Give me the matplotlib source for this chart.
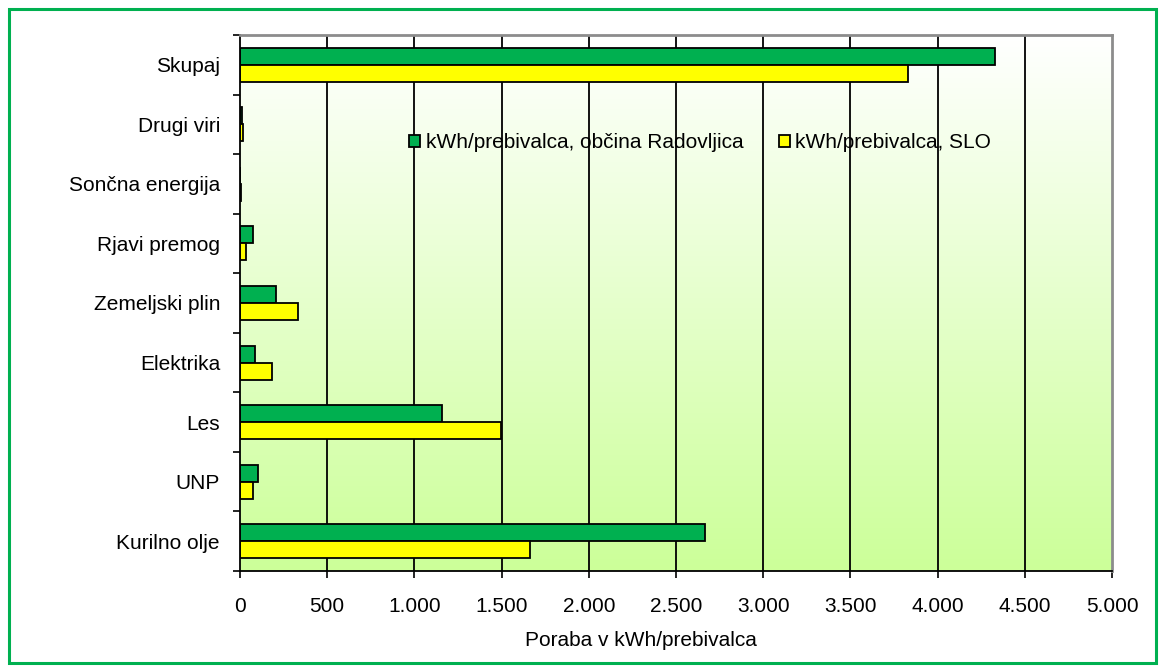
import matplotlib
matplotlib.use("Agg")
import matplotlib.pyplot as plt
import numpy as np
from matplotlib.patches import Rectangle
from matplotlib.ticker import FixedLocator, FuncFormatter

# Energy use per inhabitant by source
categories = ["Kurilno olje", "UNP", "Les", "Elektrika", "Zemeljski plin",
              "Rjavi premog", "Sončna energija", "Drugi viri", "Skupaj"]
radovljica = [2668, 105, 1158, 84, 207, 77, 0, 12, 4327]
slovenija = [1663, 75, 1497, 186, 333, 37, 8, 17, 3830]
series_labels = ["kWh/prebivalca, občina Radovljica", "kWh/prebivalca, SLO"]
x_label = "Poraba v kWh/prebivalca"
x_ticks = list(range(0, 5001, 500))

plt.rcParams["font.family"] = ["Liberation Sans", "DejaVu Sans"]

W, H, DPI = 1165, 671, 100
FS = 15
GREEN = "#00b050"
YELLOW = "#ffff00"

fig = plt.figure(figsize=(W / DPI, H / DPI), dpi=DPI)
fig.patch.set_facecolor("white")
ax = fig.add_axes([240 / W, 1 - 571 / H, 872 / W, 536 / H])
ax.patch.set_facecolor("white")

# vertical white-to-light-green background
frac = np.linspace(0, 1, 256)[:, None, None]
c_top = np.array([1.0, 1.0, 1.0])
c_bot = np.array([204, 255, 153]) / 255
bg = c_top + (c_bot - c_top) * frac
ax.imshow(bg, extent=[0, 1, 0, 1], transform=ax.transAxes, aspect="auto",
          origin="upper", zorder=0, interpolation="bilinear")

y = np.arange(len(categories))
h = 0.285
ax.barh(y + h / 2, radovljica, height=h, color=GREEN, edgecolor="black",
        linewidth=1.3, label=series_labels[0], zorder=3)
ax.barh(y - h / 2, slovenija, height=h, color=YELLOW, edgecolor="black",
        linewidth=1.3, label=series_labels[1], zorder=3)

for xv in x_ticks[1:-1]:
    ax.axvline(xv, color="black", lw=1.3, zorder=1)

ax.set_xlim(0, 5000)
ax.set_ylim(-0.5, len(categories) - 0.5)

ax.xaxis.set_major_locator(FixedLocator(x_ticks))
ax.xaxis.set_major_formatter(FuncFormatter(lambda v, p: f"{int(v):,}".replace(",", ".")))
ax.tick_params(axis="x", direction="out", length=5, width=1.2, pad=14,
               labelsize=FS, colors="black")

ax.set_yticks(y)
ax.set_yticklabels(categories)
ax.yaxis.set_minor_locator(FixedLocator(np.arange(-0.5, len(categories), 1.0)))
ax.tick_params(axis="y", which="major", length=0, pad=14.4, labelsize=FS)
ax.tick_params(axis="y", which="minor", direction="out", length=5, width=1.2)

for side in ("left", "bottom"):
    ax.spines[side].set_color("black")
    ax.spines[side].set_linewidth(1.3)
for side in ("top", "right"):
    ax.spines[side].set_color("#8c8c8c")
    ax.spines[side].set_linewidth(2)
for sp in ax.spines.values():
    sp.set_zorder(4)

ax.set_xlabel(x_label, fontsize=FS)
ax.xaxis.set_label_coords((641 - 240) / 872, (571 - 641) / 536)
ax.xaxis.label.set_va("center")

ax.legend(loc="center left", bbox_to_anchor=(169 / 872, 1 - 108 / 536), ncol=2,
          frameon=False, borderpad=0, borderaxespad=0, handlelength=0.55,
          handleheight=0.55, handletextpad=0.25, columnspacing=1.7, fontsize=FS)

fig.patches.append(Rectangle((9 / W, 8.5 / H), (W - 18) / W, (H - 17) / H,
                             transform=fig.transFigure, fill=False,
                             edgecolor=GREEN, lw=2.2, zorder=10))

fig.savefig("out.png", dpi=DPI)
